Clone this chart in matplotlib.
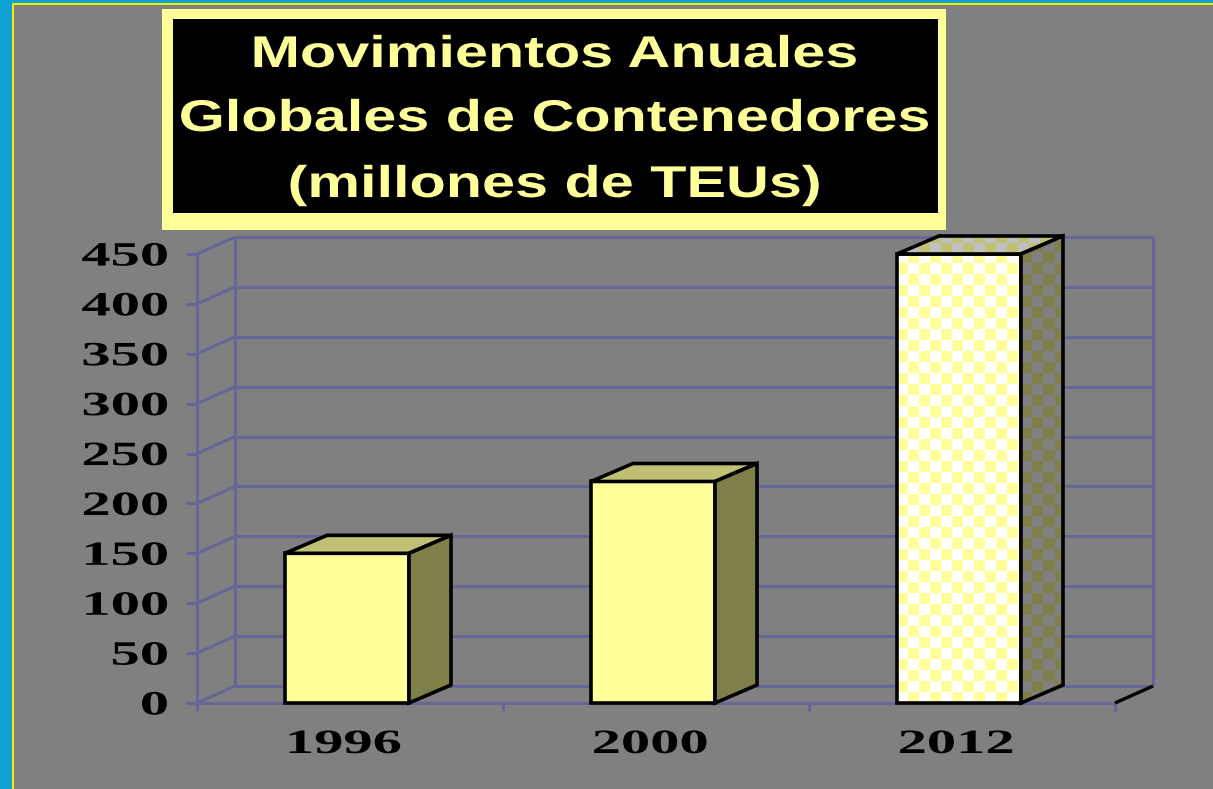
#!/usr/bin/env python3
"""Pseudo-3D column chart: yearly global container moves (million TEU)."""

import matplotlib
matplotlib.use("Agg")
import matplotlib.pyplot as plt
import numpy as np
from matplotlib import patheffects
from matplotlib.colors import ListedColormap
from matplotlib.patches import Polygon, Rectangle
from matplotlib.transforms import Affine2D

# ── data ────────────────────────────────────────────────────────────────
YEARS = ["1996", "2000", "2012"]
TEUS = [150, 222, 450]
PATTERNED = [False, False, True]          # 2012 bar drawn with a checker fill
Y_TICKS = list(range(0, 451, 50))
TITLE_LINES = ["Movimientos Anuales", "Globales de Contenedores",
               "(millones de TEUs)"]

# ── layout (pixels of the 1213x789 canvas) ──────────────────────────────
W, H = 1213, 789
X0_PX, X1_PX = 197, 1115       # front plane, category axis
Y0_PX, Y1_PX = 703, 254        # front plane, value 0 and value max
YMAX = 450
XPX = (X1_PX - X0_PX) / len(YEARS)
YPX = (Y0_PX - Y1_PX) / YMAX

GRAY = "#808080"
GRID = "#666699"
FRONT, TOP, SIDE = "#FFFF99", "#C0C074", "#7F7F4A"
TXT = "#FFFF99"

plt.rcParams["font.family"] = ["Liberation Sans", "DejaVu Sans"]


def dx(p):
    return p / XPX


def dy(p):
    return p / YPX


class Stretch(patheffects.AbstractPathEffect):
    """Widen glyphs horizontally (the source uses expanded type)."""

    def __init__(self, sx, anchor="center"):
        super().__init__()
        self.sx = sx
        self.anchor = anchor

    def draw_path(self, renderer, gc, tpath, affine, rgbFace=None):
        ext = tpath.get_extents(affine)
        x0 = {"left": ext.x0, "center": 0.5 * (ext.x0 + ext.x1),
              "right": ext.x1}[self.anchor]
        tr = affine + Affine2D().translate(-x0, 0).scale(self.sx, 1).translate(x0, 0)
        renderer.draw_path(gc, tpath, tr, rgbFace)


def checker(ax, poly, colors, z, cell=11):
    xy = poly.get_xy()
    x0, y0 = xy[:, 0].min(), xy[:, 1].min()
    w_px = (xy[:, 0].max() - x0) * XPX
    h_px = (xy[:, 1].max() - y0) * YPX
    nx, ny = int(np.ceil(w_px / cell)) + 1, int(np.ceil(h_px / cell)) + 1
    arr = np.add.outer(np.arange(ny), np.arange(nx)) % 2
    ax.imshow(arr, cmap=ListedColormap(colors), origin="lower",
              extent=(x0, x0 + nx * dx(cell), y0, y0 + ny * dy(cell)),
              interpolation="nearest", aspect="auto", zorder=z,
              clip_path=poly)


fig = plt.figure(figsize=(W / 100, H / 100), dpi=100, facecolor=GRAY)
ax = fig.add_axes([0, 0, 1, 1])
ax.axis("off")

n = len(YEARS)
wdx, wdy = dx(38), dy(17)
gkw = dict(color=GRID, lw=2.2, solid_capstyle="butt", zorder=1)

# walls, floor and axis lines
for v in Y_TICKS:
    ax.plot([wdx, n + wdx], [v + wdy, v + wdy], **gkw)
    ax.plot([0, wdx], [v, v + wdy], **gkw)
    ax.plot([-dx(11), 0], [v, v], **gkw)
    ax.annotate(str(v), xy=(0, v), xytext=(-29, -11.5), textcoords="offset pixels",
                ha="right", va="baseline", fontsize=24.5, fontweight="bold",
                family="Liberation Serif", color="black",
                path_effects=[Stretch(1.72, "right")])
ax.plot([wdx, wdx], [wdy, YMAX + wdy], **gkw)
ax.plot([n + wdx, n + wdx], [wdy, YMAX + wdy], **gkw)
ax.plot([0, 0], [0, YMAX], **gkw)
ax.plot([0, n], [0, 0], **gkw)
for i in range(n + 1):
    ax.plot([i, i], [0, -dy(8)], **gkw)
ax.plot([n, n + wdx], [0, wdy], color="black", lw=2.4, solid_capstyle="butt", zorder=1)

# bars
bw = 124 / XPX
shift = dx(-3)
bdx, bdy = dx(42), dy(18)
ekw = dict(edgecolor="black", lw=2.6, joinstyle="miter")
for i, (year, v, pat) in enumerate(zip(YEARS, TEUS, PATTERNED)):
    xl = i + 0.5 - bw / 2 + shift
    xr = xl + bw
    faces = [
        ([(xl, 0), (xr, 0), (xr, v), (xl, v)], FRONT, ["#FFFFFF", FRONT]),
        ([(xl, v), (xr, v), (xr + bdx, v + bdy), (xl + bdx, v + bdy)], TOP,
         [TOP, "#C0C0C0"]),
        ([(xr, 0), (xr + bdx, bdy), (xr + bdx, v + bdy), (xr, v)], SIDE,
         [SIDE, GRAY]),
    ]
    for k, (pts, col, cols) in enumerate(faces):
        z = 3 + i * 3 + k * 0.1
        if pat:
            clip = ax.add_patch(Polygon(pts, closed=True, facecolor="none",
                                        edgecolor="none", zorder=z))
            checker(ax, clip, cols, z + 0.01)
            ax.add_patch(Polygon(pts, closed=True, facecolor="none", zorder=z + 0.02, **ekw))
        else:
            ax.add_patch(Polygon(pts, closed=True, facecolor=col, zorder=z, **ekw))

    ax.annotate(year, xy=(i + 0.5, 0), xytext=(-6, -50), textcoords="offset pixels",
                ha="center", va="baseline", fontsize=24.5, fontweight="bold",
                family="Liberation Serif", color="black",
                path_effects=[Stretch(1.72, "center")])

ax.set_xlim(-X0_PX / XPX, (W - X0_PX) / XPX)
ax.set_ylim(-(H - Y0_PX) / YPX, YMAX + Y1_PX / YPX)

# title box
fig.add_artist(Rectangle((162 / W, 1 - 230 / H), 784 / W, 221 / H,
                         transform=fig.transFigure, facecolor="#FFFF99",
                         edgecolor="none", zorder=2))
fig.add_artist(Rectangle((173 / W, 1 - 213 / H), 765 / W, 194 / H,
                         transform=fig.transFigure, facecolor="black",
                         edgecolor="none", zorder=3))
for line, base in zip(TITLE_LINES, [67, 131, 197]):
    fig.text(555 / W, 1 - base / H, line, ha="center", va="baseline",
             fontsize=32, fontweight="bold", color=TXT, zorder=4,
             path_effects=[Stretch(1.335, "center")])

# slide border
fig.add_artist(Rectangle((0, 0), 12 / W, 1, transform=fig.transFigure,
                         facecolor="#10A0D4", edgecolor="none", zorder=5))
fig.add_artist(Rectangle((0, 1 - 3 / H), 1, 3 / H, transform=fig.transFigure,
                         facecolor="#10A0D4", edgecolor="none", zorder=5))
fig.add_artist(Rectangle((12 / W, 0), 2 / W, 1 - 3 / H, transform=fig.transFigure,
                         facecolor="#F0F000", edgecolor="none", zorder=5))
fig.add_artist(Rectangle((12 / W, 1 - 5 / H), 1, 2 / H, transform=fig.transFigure,
                         facecolor="#F0F000", edgecolor="none", zorder=5))

fig.savefig("out.png", dpi=100, facecolor=GRAY)
